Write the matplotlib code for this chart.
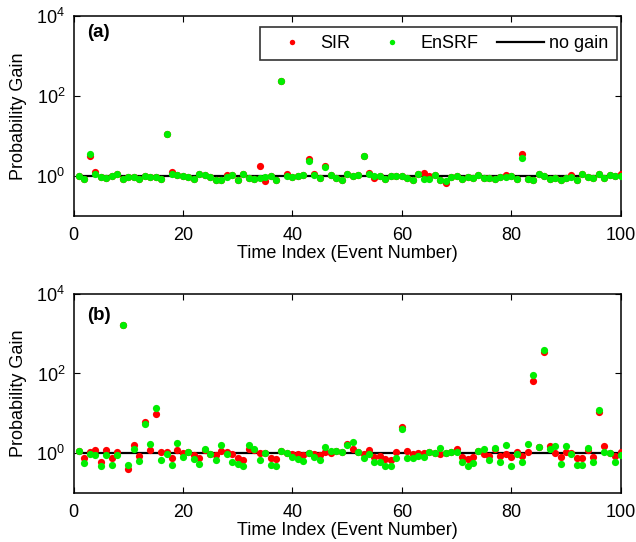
import numpy as np
import matplotlib
matplotlib.use("Agg")
import matplotlib.pyplot as plt
from matplotlib.ticker import LogLocator, NullLocator

plt.rcParams['font.family'] = ['Liberation Sans', 'DejaVu Sans']
plt.rcParams['font.size'] = 13

# time index (event number)
events = np.arange(1, 101)

# panel (a) probability gains
sir_a = [1.00, 0.85, 3.09, 1.23, 0.95, 0.87, 1.02, 1.10, 0.83, 0.95,
         0.95, 0.83, 1.02, 0.93, 0.93, 0.83, 11.0, 1.26, 1.05, 1.02,
         0.95, 0.83, 1.10, 1.05, 0.95, 0.79, 0.79, 1.05, 1.07, 0.81,
         1.10, 0.87, 0.83, 1.78, 0.74, 1.02, 0.79, 237, 1.10, 0.95,
         1.00, 1.05, 2.63, 1.12, 0.87, 1.82, 1.07, 0.87, 0.79, 1.10,
         1.02, 1.05, 3.16, 1.17, 0.91, 1.02, 0.83, 1.02, 0.98, 1.02,
         0.87, 0.79, 1.10, 1.17, 1.00, 1.05, 0.79, 0.68, 0.95, 1.02,
         0.85, 0.95, 0.91, 1.07, 0.91, 0.87, 0.83, 0.95, 1.05, 1.00,
         0.85, 3.55, 0.83, 0.79, 1.12, 1.00, 0.83, 0.87, 0.79, 0.87,
         1.07, 0.79, 1.10, 0.93, 0.91, 1.12, 0.87, 1.05, 1.00, 1.10]
ensrf_a = [1.00, 0.85, 3.47, 1.12, 0.95, 0.87, 1.02, 1.10, 0.83, 0.95,
           0.95, 0.83, 1.02, 0.93, 0.93, 0.83, 11.0, 1.10, 1.05, 1.02,
           0.95, 0.83, 1.10, 1.05, 0.95, 0.79, 0.79, 0.95, 1.07, 0.81,
           1.10, 0.87, 0.83, 0.87, 0.95, 1.02, 0.79, 237, 1.00, 0.95,
           1.00, 1.05, 2.40, 1.05, 0.87, 1.72, 1.07, 0.87, 0.79, 1.10,
           1.02, 1.05, 3.16, 1.10, 1.02, 1.02, 0.83, 1.02, 0.98, 1.02,
           0.87, 0.79, 1.10, 0.85, 0.85, 1.05, 0.79, 0.74, 0.95, 1.02,
           0.85, 0.95, 0.91, 1.07, 0.91, 0.87, 0.83, 0.95, 0.95, 1.00,
           0.85, 2.88, 0.83, 0.79, 1.12, 1.00, 0.83, 0.87, 0.79, 0.87,
           0.95, 0.79, 1.10, 0.93, 0.91, 1.12, 0.87, 1.05, 1.00, 1.02]

# panel (b) probability gains
sir_b = [1.15, 0.74, 1.05, 1.20, 0.58, 1.17, 0.74, 1.07, 1660, 0.40,
         1.55, 0.83, 6.17, 1.20, 9.33, 1.05, 1.05, 0.74, 1.17, 0.98,
         1.07, 0.89, 0.74, 1.17, 0.93, 0.89, 1.10, 1.05, 0.95, 0.74,
         0.66, 1.26, 1.17, 1.00, 1.02, 0.74, 0.71, 1.15, 1.02, 0.95,
         0.93, 0.87, 1.02, 0.93, 0.89, 1.07, 0.98, 1.10, 1.07, 1.66,
         1.23, 1.07, 0.93, 1.17, 0.81, 0.83, 0.69, 0.66, 1.05, 4.47,
         1.10, 0.93, 0.98, 0.98, 1.05, 1.02, 0.93, 1.02, 1.07, 1.23,
         0.78, 0.69, 0.78, 1.10, 0.95, 0.83, 1.23, 0.85, 0.93, 0.81,
         1.07, 0.83, 1.05, 66, 1.45, 339, 1.51, 1.00, 0.79, 1.07,
         0.98, 0.74, 0.74, 1.20, 0.81, 10.5, 1.51, 1.00, 0.83, 1.05]
ensrf_b = [1.15, 0.55, 0.93, 0.91, 0.47, 0.91, 0.51, 0.87, 1660, 0.50,
           1.29, 0.63, 5.50, 1.66, 13.2, 0.66, 0.95, 0.50, 1.74, 0.78,
           1.07, 0.71, 0.52, 1.23, 0.93, 0.66, 1.62, 0.95, 0.58, 0.52,
           0.48, 1.62, 1.26, 0.66, 1.02, 0.51, 0.48, 1.15, 1.02, 0.79,
           0.72, 0.63, 1.02, 0.81, 0.65, 1.41, 1.12, 1.10, 1.07, 1.58,
           1.86, 1.07, 0.74, 0.95, 0.60, 0.60, 0.48, 0.48, 0.76, 3.89,
           0.74, 0.74, 0.83, 0.79, 1.05, 1.02, 1.35, 1.02, 1.07, 1.05,
           0.58, 0.48, 0.56, 1.10, 1.26, 0.66, 1.32, 0.60, 1.58, 0.48,
           0.93, 0.60, 1.70, 91, 1.41, 380, 1.23, 1.51, 0.52, 1.51,
           0.95, 0.51, 0.51, 1.32, 0.59, 11.7, 1.07, 1.00, 0.60, 0.89]

panels = [("(a)", sir_a, ensrf_a, 0.9175), ("(b)", sir_b, ensrf_b, 0.892)]

fig = plt.figure(figsize=(6.36, 5.42), dpi=100)
axes = [fig.add_axes([0.1156, 0.6015, 0.8604, 0.369]),
        fig.add_axes([0.1156, 0.091, 0.8604, 0.3666])]

for i, (ax, (tag, sir, ensrf, tag_y)) in enumerate(zip(axes, panels)):
    ax.plot(events, sir, 'o', color='#ff0000', ms=5.2, mec='none', label='SIR', zorder=3)
    ax.plot(events, ensrf, 'o', color='#00ee00', ms=5.2, mec='none', label='EnSRF', zorder=4)
    ax.plot([events[0], events[-1]], [1, 1], '-', color='black', lw=1.6, label='no gain', zorder=2)
    ax.set_yscale('log')
    ax.set_xlim(0, 100)
    ax.set_ylim(0.1, 1e4)
    ax.set_xticks(np.arange(0, 101, 20))
    ax.yaxis.set_major_locator(LogLocator(base=100))
    ax.yaxis.set_minor_locator(NullLocator())
    ax.tick_params(direction='in', top=True, right=True, length=4, width=0.8,
                   labelsize=13)
    ax.tick_params(axis='x', pad=8)
    ax.tick_params(axis='y', pad=6)
    for s in ax.spines.values():
        s.set_linewidth(1.1)
    ax.set_xlabel('Time Index (Event Number)', fontsize=13, labelpad=1)
    ax.set_ylabel('Probability Gain', fontsize=13, labelpad=7)
    ax.text(0.024, tag_y, tag, transform=ax.transAxes, fontsize=13.5, fontweight='bold',
            va='center', ha='left')
    if i == 0:
        leg = ax.legend(loc='upper right', bbox_to_anchor=(0.9927, 0.945), ncol=3,
                        frameon=True, fancybox=False, edgecolor='black', fontsize=13,
                        handlelength=2.6, handletextpad=0.3, columnspacing=1.0,
                        borderaxespad=0, numpoints=1, borderpad=0.45, markerscale=0.75)
        leg.get_frame().set_linewidth(1.2)

fig.savefig('out.png', dpi=100)
